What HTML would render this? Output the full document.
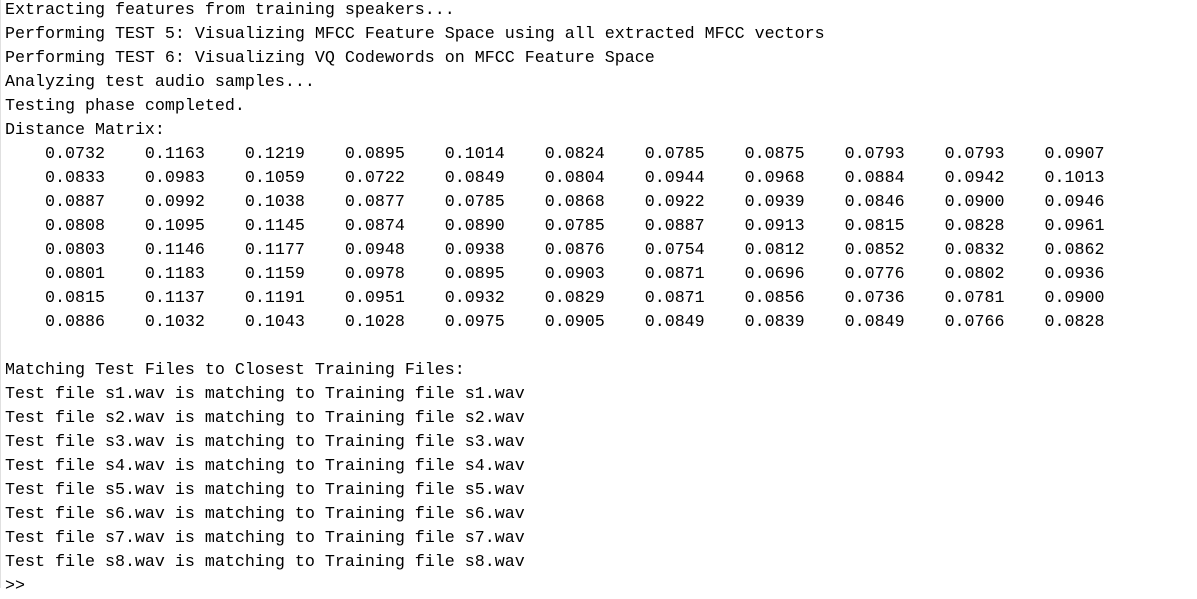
<!DOCTYPE html>
<html><head><meta charset="utf-8"><style>
html,body{margin:0;padding:0;background:#fff;width:1197px;height:588px;overflow:hidden}
#console{position:absolute;left:0;top:0;width:1196px;height:588px;border-left:1px solid #e0e0e0}
pre{margin:0;position:absolute;left:4px;top:-1px;font-family:"Liberation Mono","Courier New",monospace;font-size:16.67px;line-height:24px;color:#000}
pre span{display:block;height:24px;white-space:pre}
</style></head><body>
<div id="console">
<pre><span>Extracting features from training speakers...</span><span>Performing TEST 5: Visualizing MFCC Feature Space using all extracted MFCC vectors</span><span>Performing TEST 6: Visualizing VQ Codewords on MFCC Feature Space</span><span>Analyzing test audio samples...</span><span>Testing phase completed.</span><span>Distance Matrix:</span><span>    0.0732    0.1163    0.1219    0.0895    0.1014    0.0824    0.0785    0.0875    0.0793    0.0793    0.0907</span><span>    0.0833    0.0983    0.1059    0.0722    0.0849    0.0804    0.0944    0.0968    0.0884    0.0942    0.1013</span><span>    0.0887    0.0992    0.1038    0.0877    0.0785    0.0868    0.0922    0.0939    0.0846    0.0900    0.0946</span><span>    0.0808    0.1095    0.1145    0.0874    0.0890    0.0785    0.0887    0.0913    0.0815    0.0828    0.0961</span><span>    0.0803    0.1146    0.1177    0.0948    0.0938    0.0876    0.0754    0.0812    0.0852    0.0832    0.0862</span><span>    0.0801    0.1183    0.1159    0.0978    0.0895    0.0903    0.0871    0.0696    0.0776    0.0802    0.0936</span><span>    0.0815    0.1137    0.1191    0.0951    0.0932    0.0829    0.0871    0.0856    0.0736    0.0781    0.0900</span><span>    0.0886    0.1032    0.1043    0.1028    0.0975    0.0905    0.0849    0.0839    0.0849    0.0766    0.0828</span><span> </span><span>Matching Test Files to Closest Training Files:</span><span>Test file s1.wav is matching to Training file s1.wav</span><span>Test file s2.wav is matching to Training file s2.wav</span><span>Test file s3.wav is matching to Training file s3.wav</span><span>Test file s4.wav is matching to Training file s4.wav</span><span>Test file s5.wav is matching to Training file s5.wav</span><span>Test file s6.wav is matching to Training file s6.wav</span><span>Test file s7.wav is matching to Training file s7.wav</span><span>Test file s8.wav is matching to Training file s8.wav</span><span>&gt;&gt;</span></pre>
</div>
</body></html>
